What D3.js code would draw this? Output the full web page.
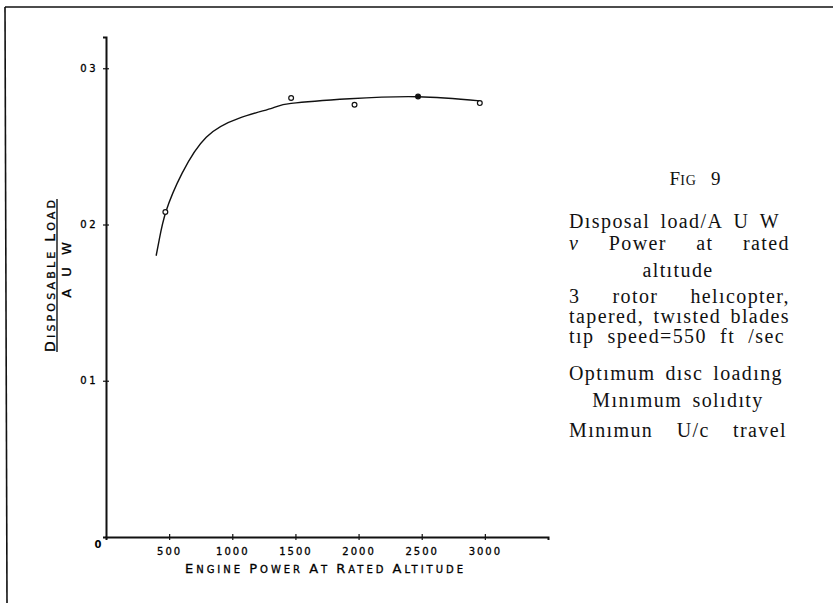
<!DOCTYPE html>
<html>
<head>
<meta charset="utf-8">
<script src="https://cdn.jsdelivr.net/npm/d3@7"></script>
<style>
  html, body { margin: 0; padding: 0; background: #fff; }
  svg { display: block; }
</style>
</head>
<body>
<div id="chart"></div>
<script>
// Chart values
var xTicks = [500, 1000, 1500, 2000, 2500, 3000];
var yTicks = [0.1, 0.2, 0.3];

// faired curve
var curvePower = [397, 421, 476, 603, 794, 1056, 1317, 1466, 1929, 2471, 2960];
var curveLoad = [0.180, 0.190, 0.2086, 0.2329, 0.2559, 0.2681, 0.2745, 0.2775, 0.2805, 0.2818, 0.2791];

// plotted points
var pointPower = [470, 1466, 1968, 2471, 2960];
var pointLoad = [0.208, 0.281, 0.2766, 0.282, 0.2777];
var pointFilled = [false, false, false, true, false];

// notes on the right
var noteLines = [
  "Dısposal load/A U W",
  "v Power at rated",
  "altıtude",
  "3 rotor helıcopter,",
  "tapered, twısted blades",
  "tıp speed=550 ft /sec",
  "Optımum dısc loadıng",
  "Mınımum solıdıty",
  "Mınımun U/c travel"
];

var W = 833, H = 603;
var svg = d3.select("#chart").append("svg")
    .attr("width", W)
    .attr("height", H);

// scan frame (top and left edges)
svg.append("line").attr("x1", 5).attr("y1", 7).attr("x2", W).attr("y2", 7)
    .attr("stroke", "#111").attr("stroke-width", 1.6);
svg.append("line").attr("x1", 5).attr("y1", 7).attr("x2", 7).attr("y2", H)
    .attr("stroke", "#111").attr("stroke-width", 1.6);

// Scales
var x = d3.scaleLinear().domain([0, 3500]).range([106, 548]);
var y = d3.scaleLinear().domain([0, 0.32]).range([537, 37]);

var axisFont = "'DejaVu Sans', sans-serif";

// X axis
var xAxis = svg.append("g")
    .attr("transform", "translate(0," + y(0) + ")")
    .call(d3.axisBottom(x).tickValues(xTicks).tickSizeOuter(0).tickSize(3).tickPadding(8)
      .tickFormat(d3.format("d")));
xAxis.select(".domain").attr("stroke", "#111").attr("stroke-width", 2);
xAxis.selectAll(".tick line").attr("y1", -3).attr("stroke", "#111").attr("stroke-width", 1.2);
xAxis.selectAll(".tick text")
    .style("font-family", axisFont).style("font-size", "10px")
    .style("letter-spacing", "2px").attr("fill", "#000")
    .attr("stroke", "#000").attr("stroke-width", 0.3);

// Y axis
var yAxis = svg.append("g")
    .attr("transform", "translate(" + x(0) + ",0)")
    .call(d3.axisLeft(y).tickValues(yTicks).tickSizeOuter(0).tickSize(3).tickPadding(5)
      .tickFormat(function(d) { return "0" + Math.round(d * 10); }));
yAxis.select(".domain").attr("stroke", "#111").attr("stroke-width", 2);
yAxis.selectAll(".tick line").attr("x1", 3).attr("stroke", "#111").attr("stroke-width", 1.2);
yAxis.selectAll(".tick text")
    .style("font-family", axisFont).style("font-size", "10px")
    .style("letter-spacing", "2.5px").attr("fill", "#000")
    .attr("stroke", "#000").attr("stroke-width", 0.3);

// origin label
svg.append("text")
    .attr("x", x(0) - 8).attr("y", y(0) + 11)
    .attr("text-anchor", "middle")
    .style("font-family", axisFont).style("font-size", "10px").style("font-weight", "bold")
    .text("0");

// X axis title (small caps)
var xt = svg.append("text")
    .attr("x", 185).attr("y", 573)
    .attr("textLength", 278).attr("lengthAdjust", "spacing")
    .style("font-family", axisFont).attr("fill", "#000")
    .attr("stroke", "#000").attr("stroke-width", 0.3);
[["E", 13], ["NGINE ", 10], ["P", 13], ["OWER ", 10], ["A", 13], ["T ", 10],
 ["R", 13], ["ATED ", 10], ["A", 13], ["LTITUDE", 10]].forEach(function(p) {
  xt.append("tspan").style("font-size", p[1] + "px").text(p[0]);
});

// Y axis title, written as a fraction
var yl = svg.append("g").attr("transform", "translate(55,276) rotate(-90)");
var yt = yl.append("text")
    .attr("x", -76).attr("y", 0)
    .attr("textLength", 152).attr("lengthAdjust", "spacing")
    .style("font-family", axisFont).attr("fill", "#000")
    .attr("stroke", "#000").attr("stroke-width", 0.3);
[["D", 14], ["ISPOSABLE ", 11], ["L", 14], ["OAD", 11]].forEach(function(p) {
  yt.append("tspan").style("font-size", p[1] + "px").text(p[0]);
});
yl.append("line").attr("x1", -76).attr("x2", 77).attr("y1", 2).attr("y2", 2)
    .attr("stroke", "#111").attr("stroke-width", 1.4);
yl.append("text")
    .attr("x", 8).attr("y", 16)
    .attr("text-anchor", "middle")
    .style("font-family", axisFont).style("font-size", "13px")
    .style("letter-spacing", "4px")
    .attr("stroke", "#000").attr("stroke-width", 0.3)
    .text("A U W");

// Curve
var line = d3.line()
    .x(function(d) { return x(d[0]); })
    .y(function(d) { return y(d[1]); })
    .curve(d3.curveNatural);

svg.append("path")
    .datum(d3.zip(curvePower, curveLoad))
    .attr("d", line)
    .attr("fill", "none")
    .attr("stroke", "#111")
    .attr("stroke-width", 1.4);

// Points
svg.selectAll("circle.pt")
    .data(d3.range(pointPower.length))
    .enter().append("circle")
    .attr("class", "pt")
    .attr("cx", function(i) { return x(pointPower[i]); })
    .attr("cy", function(i) { return y(pointLoad[i]); })
    .attr("r", 2.4)
    .attr("fill", function(i) { return pointFilled[i] ? "#111" : "#fff"; })
    .attr("stroke", "#111")
    .attr("stroke-width", 1.2);

// Figure caption
var serif = "'Liberation Serif', 'Times New Roman', serif";
var cap = svg.append("text")
    .attr("x", 695).attr("y", 185)
    .attr("text-anchor", "middle")
    .style("font-family", serif).attr("fill", "#111");
cap.append("tspan").style("font-size", "19px").text("F");
cap.append("tspan").style("font-size", "14px").style("letter-spacing", "1px").text("IG");
cap.append("tspan").style("font-size", "19px").attr("dx", 14).text("9");

// layout for note lines: [mode, x0, x1, baseline]
var noteLayout = [
  ["justify", 569, 780, 228],
  ["justify", 569, 790, 250],
  ["center", 678, 678, 277],
  ["justify", 569, 790, 303],
  ["justify", 569, 790, 323],
  ["justify", 569, 785, 343],
  ["justify", 569, 783, 380],
  ["center", 678, 678, 407],
  ["justify", 569, 787, 437]
];

var notes = svg.append("g")
    .style("font-family", serif)
    .style("font-size", "20px")
    .attr("fill", "#111");

noteLines.forEach(function(txt, li) {
  var lay = noteLayout[li];
  if (lay[0] === "center") {
    notes.append("text")
        .attr("x", lay[1]).attr("y", lay[3])
        .attr("text-anchor", "middle")
        .style("letter-spacing", "1.4px")
        .style("word-spacing", "4px")
        .text(txt);
    return;
  }
  var words = txt.split(" ");
  var nodes = words.map(function(w, wi) {
    var t = notes.append("text").attr("y", lay[3]).style("letter-spacing", "1.4px").text(w);
    if (li === 1 && wi === 0) t.style("font-style", "italic");
    return t;
  });
  var widths = nodes.map(function(n) { return n.node().getComputedTextLength(); });
  var gap = words.length > 1 ? (lay[2] - lay[1] - d3.sum(widths)) / (words.length - 1) : 0;
  var cx = lay[1];
  nodes.forEach(function(n, i) {
    n.attr("x", cx);
    cx += widths[i] + gap;
  });
});
</script>
</body>
</html>
